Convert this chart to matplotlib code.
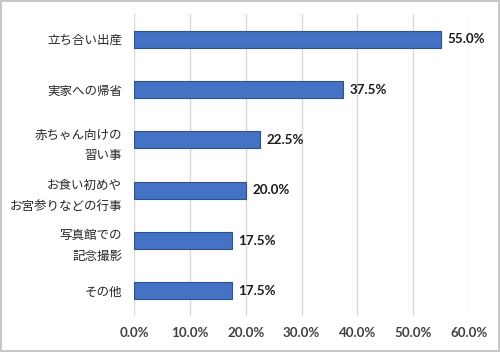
import matplotlib
matplotlib.use("Agg")
import matplotlib.pyplot as plt
from matplotlib.patches import Rectangle

plt.rcParams['font.family'] = ['Noto Sans CJK JP', 'DejaVu Sans']

categories = ["立ち合い出産", "実家への帰省", "赤ちゃん向けの\n習い事", "お食い初めや\nお宮参りなどの行事", "写真館での\n記念撮影", "その他"]
values = [55.0, 37.5, 22.5, 20.0, 17.5, 17.5]
xticks = [0, 10, 20, 30, 40, 50, 60]
xticklabels = ["0.0%", "10.0%", "20.0%", "30.0%", "40.0%", "50.0%", "60.0%"]

fig = plt.figure(figsize=(5.0, 3.52), dpi=100)
ax = fig.add_axes([0.268, 0.102, 0.670, 0.858])
y = list(range(len(categories)))
ax.barh(y, values, height=0.34, color="#4472C4", edgecolor="#2F528F", linewidth=0.8, zorder=3)
for yi, v in zip(y, values):
    ax.text(v + 1.2, yi, f"{v:.1f}%", va="center", ha="left", fontsize=9.6,
            color="#1a1a1a", fontweight="bold", fontfamily=['Lato', 'DejaVu Sans'])
ax.set_xlim(0, 60)
ax.set_ylim(len(categories) - 0.5, -0.5)
ax.set_xticks(xticks)
ax.set_xticklabels(xticklabels, fontsize=9.6, color="#404040", fontweight="bold", fontfamily=['Lato', 'DejaVu Sans'])
ax.set_yticks(y)
ax.set_yticklabels(categories, fontsize=9, color="#262626", linespacing=1.8)
ax.tick_params(length=0, pad=8)
ax.tick_params(axis='y', pad=8.5)
ax.xaxis.grid(True, color="#d9d9d9", linewidth=1.0, zorder=0)
for s in ax.spines.values():
    s.set_visible(False)
fig.patches.append(Rectangle((0.002, 0.003), 0.996, 0.994, transform=fig.transFigure,
                             fill=False, edgecolor="#bfbfbf", linewidth=1.2))
fig.savefig("out.png", dpi=100)
